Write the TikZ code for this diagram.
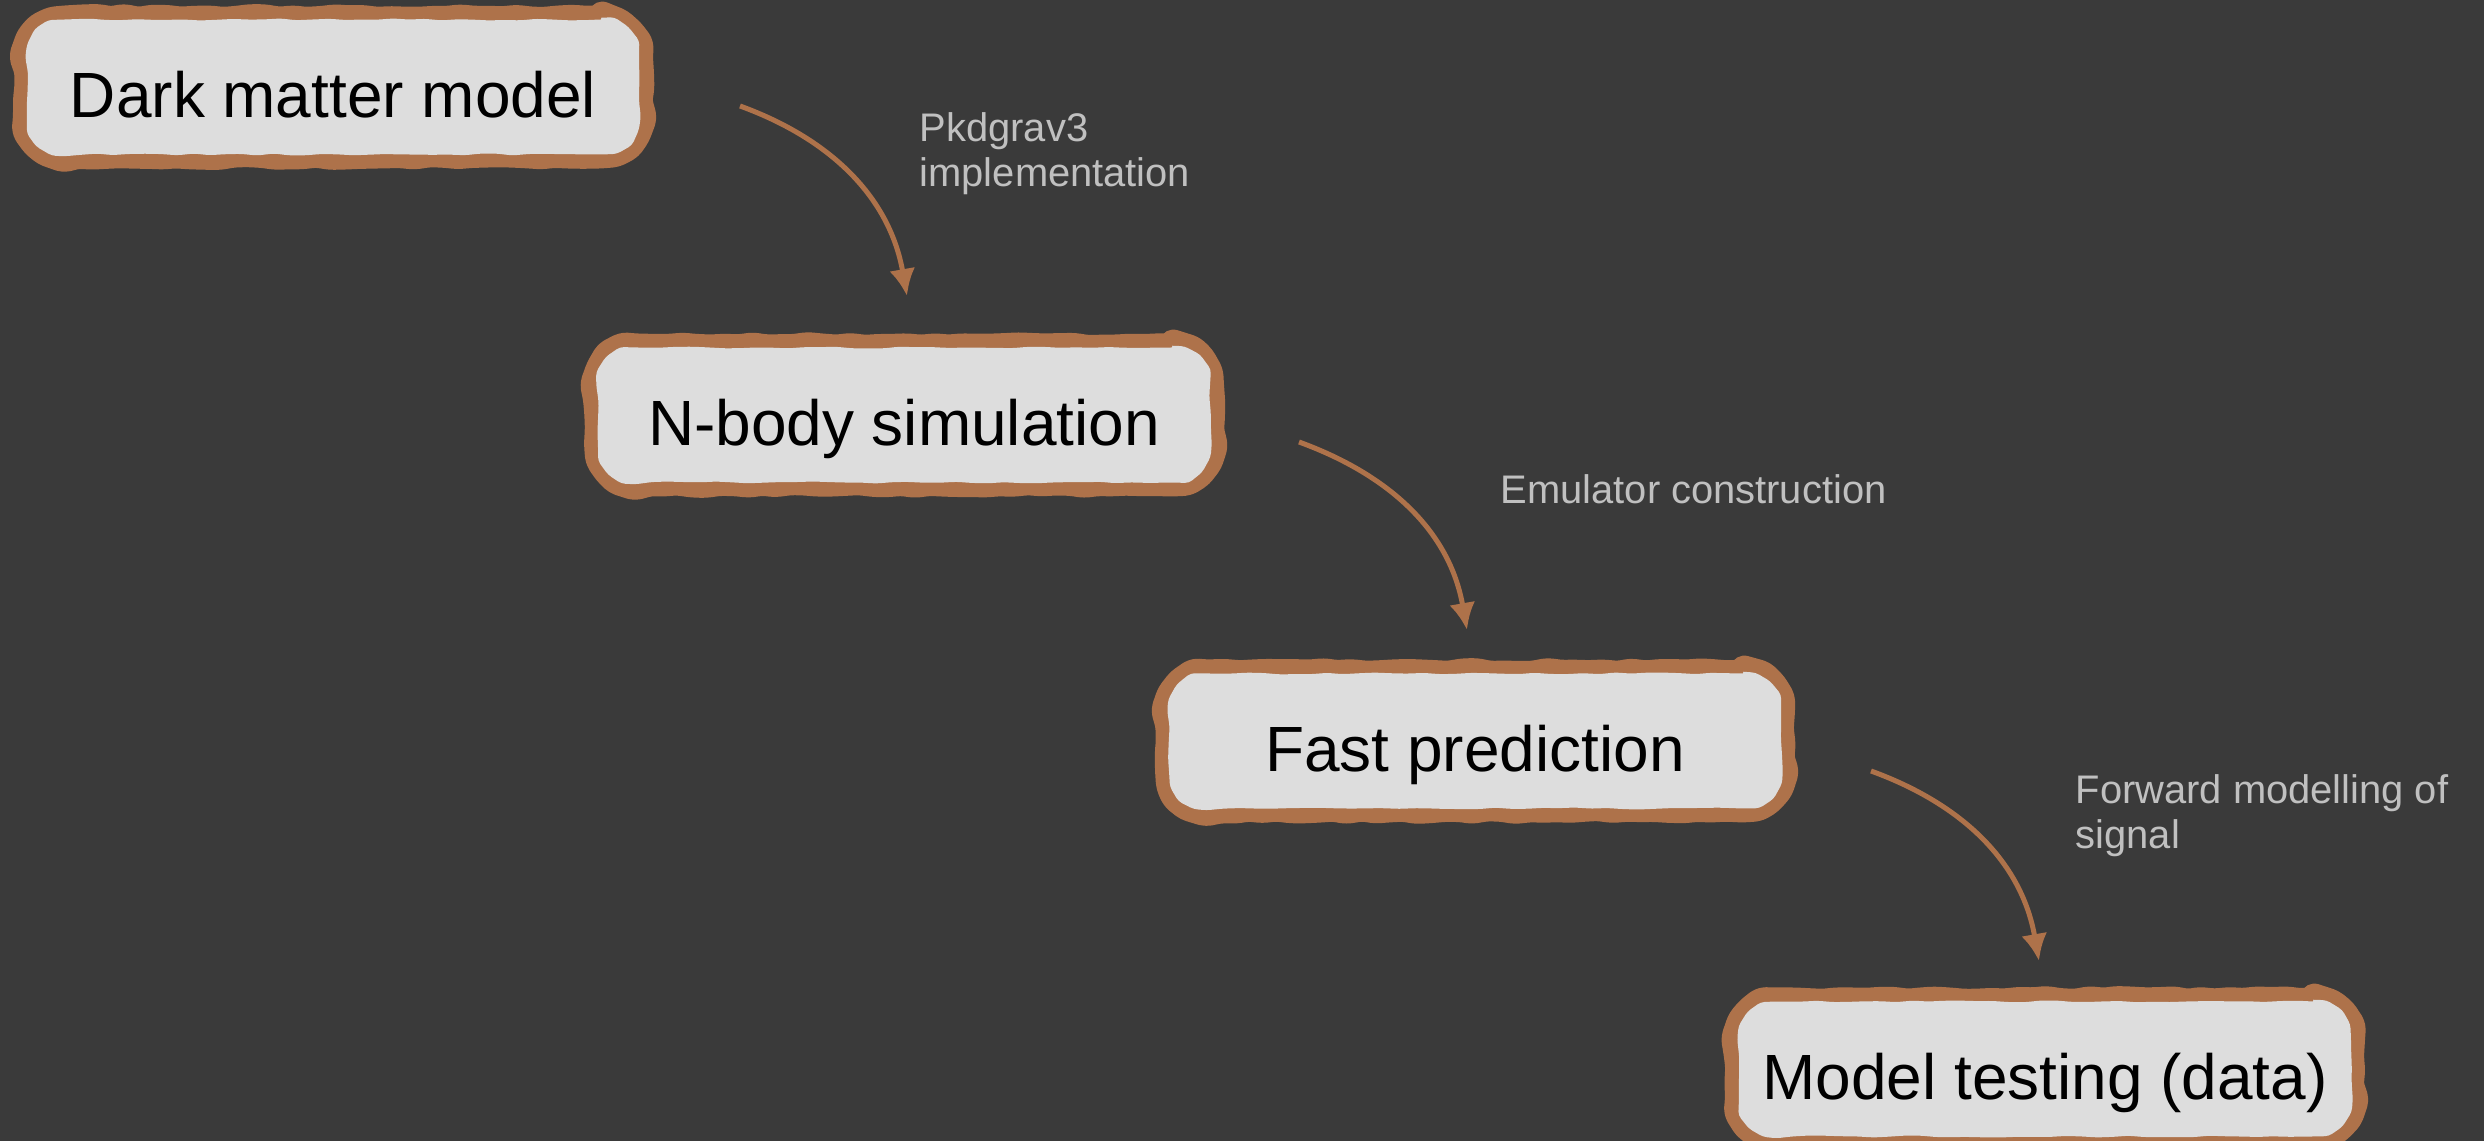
\documentclass[tikz,border=0pt]{standalone}
\usepackage{fontspec}
\setmainfont{Liberation Sans}
\usetikzlibrary{arrows.meta,decorations.pathmorphing}

\definecolor{bgdark}{RGB}{58,58,58}
\definecolor{boxfill}{RGB}{221,221,221}
\definecolor{rim}{RGB}{174,114,74}
\definecolor{notegray}{RGB}{192,192,192}

\begin{document}
\begin{tikzpicture}[
  stage/.style={rounded corners=3.8mm,
    minimum width=6.12cm, minimum height=1.35cm, align=center,
    text height=6.1mm, text depth=0mm,
    font=\fontsize{18.2}{22}\selectfont, text=black,
    preaction={draw=rim, line width=2.8mm, line join=round, line cap=round, rounded corners=0.4mm,
      decorate, decoration={random steps, segment length=1.4mm, amplitude=0.15mm}},
    preaction={fill=boxfill, rounded corners=0.4mm,
      decorate, decoration={random steps, segment length=1.6mm, amplitude=0.1mm}}},
  note/.style={text=notegray, font=\fontsize{11.35}{12.8}\selectfont, align=left, inner sep=0pt},
  flow/.style={draw=rim, line width=0.5mm, -{Latex[length=2.7mm,width=2.6mm]}, out=-20, in=100},
  >=Latex
]
\pgfmathsetseed{7}
\fill[bgdark] (0,0) rectangle (24.84,-11.41);
\useasboundingbox (0,0) rectangle (24.84,-11.41);

\node[stage] (model) at (3.33,-0.87) {Dark matter model};
\node[stage] (nbody) at (9.04,-4.15) {N-body simulation};
\node[stage] (fast) at (14.75,-7.41) {Fast prediction};
\node[stage] (test) at (20.45,-10.69) {Model testing (data)};

\coordinate (impl-s) at (7.40,-1.06);
\coordinate (impl-e) at (9.07,-2.96);
\coordinate (emu-s) at (12.99,-4.42);
\coordinate (emu-e) at (14.67,-6.30);
\coordinate (fwd-s) at (18.71,-7.71);
\coordinate (fwd-e) at (20.39,-9.61);

\draw[flow] (impl-s) to (impl-e);
\draw[flow] (emu-s) to (emu-e);
\draw[flow] (fwd-s) to (fwd-e);

\node[note, anchor=north west] (implnote) at (9.19,-1.12) {Pkdgrav3\\implementation};
\node[note, anchor=base west] (emunote) at (15.00,-5.04) {Emulator construction};
\node[note, anchor=north west] (fwdnote) at (20.75,-7.74) {Forward modelling of\\signal};
\end{tikzpicture}
\end{document}
